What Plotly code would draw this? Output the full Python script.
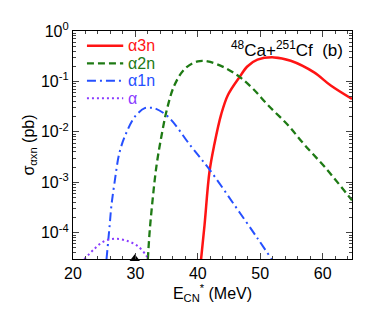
import plotly.graph_objects as go

# α3n
e_3n = [40.52, 41.07, 41.86, 42.64, 43.73, 44.82, 46.69, 47.97, 49.55, 52.22, 54.88, 58.63, 61.30, 64.7]
s_3n = [3.0e-5, 1.4e-4, 1.6e-3, 5.6e-3, 0.022, 0.054, 0.123, 0.20, 0.27, 0.30, 0.257, 0.151, 0.083, 0.045]

# α2n
e_2n = [31.99, 32.28, 32.77, 33.37, 34.16, 35.05, 36.23, 37.91, 39.98, 41.56, 44.22, 46.69, 48.86, 51.23,
        54.39, 57.06, 60.51, 64.7]
s_2n = [3.0e-5, 1.05e-4, 4.7e-4, 2.1e-3, 8.1e-3, 0.028, 0.083, 0.178, 0.25, 0.25, 0.19, 0.123, 0.071,
        0.034, 0.0138, 5.6e-3, 1.9e-3, 4.4e-4]

# α1n
e_1n = [25.37, 25.87, 26.16, 26.66, 27.45, 28.53, 29.91, 31.49, 32.28, 33.07, 35.24, 38.89, 41.86, 45.90,
        49.55, 51.82]
s_1n = [3.0e-5, 1.4e-4, 3.5e-4, 1.0e-3, 3.9e-3, 9.5e-3, 0.020, 0.0295, 0.030, 0.0295, 0.020, 5.2e-3,
        1.8e-3, 3.5e-4, 7.8e-5, 3.0e-5]

# α
e_a = [21.82, 23.50, 25.08, 26.95, 28.83, 30.41, 31.69, 32.08]
s_a = [3.0e-5, 4.9e-5, 6.9e-5, 7.6e-5, 6.8e-5, 5.4e-5, 3.6e-5, 3.0e-5]

# marker sitting on the bottom axis
e_mark = [29.9]
s_mark = [3.05e-5]

y_exps = [0, -1, -2, -3, -4]
y_labels = ['10<sup>0</sup>', '10<sup>-1</sup>', '10<sup>-2</sup>', '10<sup>-3</sup>', '10<sup>-4</sup>']

series_names = ['α3n', 'α2n', 'α1n', 'α']
series_x = [e_3n, e_2n, e_1n, e_a]
series_y = [s_3n, s_2n, s_1n, s_a]
colors = ['#ff1414', '#1e7a14', '#2650ff', '#8a3cff']
dashes = ['solid', '7px,4px', '9px,4px,2px,4px', '2px,3px']
widths = [2.5, 2.3, 2, 2]

fig = go.Figure()
for name, xs, ys, c, d, w in zip(series_names, series_x, series_y, colors, dashes, widths):
    fig.add_trace(go.Scatter(x=xs, y=ys, mode='lines', line_shape='spline', name=name,
                             showlegend=False, line=dict(color=c, width=w, dash=d)))
fig.add_trace(go.Scatter(x=e_mark, y=s_mark, mode='markers', showlegend=False,
                         cliponaxis=False,
                         marker=dict(symbol='triangle-up', size=9, color='black')))

# hand-made legend (compact rows like the original)
shapes = []
annotations = []
row_y = [0.935, 0.858, 0.782, 0.705]
for name, c, d, w, yy in zip(series_names, colors, dashes, widths, row_y):
    shapes.append(dict(type='line', xref='paper', yref='paper', x0=0.05, x1=0.18, y0=yy, y1=yy,
                       line=dict(color=c, width=w, dash=d)))
    annotations.append(dict(text=name, xref='paper', yref='paper', x=0.19, y=yy,
                            xanchor='left', yanchor='middle', showarrow=False,
                            font=dict(size=16, color=c)))

annotations.append(dict(
    text='<sup>48</sup>Ca+<sup>251</sup>Cf  (b)', xref='paper', yref='paper',
    x=0.975, y=0.92, xanchor='right', yanchor='middle', showarrow=False,
    font=dict(size=17)))

minor_vals = [k * 10.0 ** n for n in range(-5, 0) for k in range(2, 10)]

fig.update_layout(
    width=374, height=320,
    margin=dict(l=65, r=30, t=20, b=69),
    paper_bgcolor='white',
    plot_bgcolor='white',
    font=dict(family='Liberation Sans, Arial, sans-serif', size=15, color='black'),
    showlegend=False,
    xaxis=dict(
        range=[20, 64.7], dtick=10, tick0=20,
        ticks='inside', ticklen=6, mirror='allticks', showline=True,
        linecolor='black', linewidth=1.2, showgrid=False, zeroline=False,
        minor=dict(ticks='inside', ticklen=3, dtick=2, tick0=20),
        title=dict(text='E<sub>CN</sub><sup>*</sup> (MeV)', standoff=4, font=dict(size=16)),
        tickfont=dict(size=16),
    ),
    yaxis=dict(
        type='log', range=[-4.52, 0],
        tickmode='array', tickvals=[10.0 ** n for n in y_exps], ticktext=y_labels,
        ticks='inside', ticklen=6, mirror='allticks', showline=True,
        linecolor='black', linewidth=1.2, showgrid=False, zeroline=False,
        minor=dict(ticks='inside', ticklen=3, tickmode='array', tickvals=minor_vals),
        title=dict(text='σ<sub>αxn</sub> (pb)', standoff=2, font=dict(size=16)),
        tickfont=dict(size=16),
    ),
    shapes=shapes,
    annotations=annotations,
)

fig.write_html("out.html")
